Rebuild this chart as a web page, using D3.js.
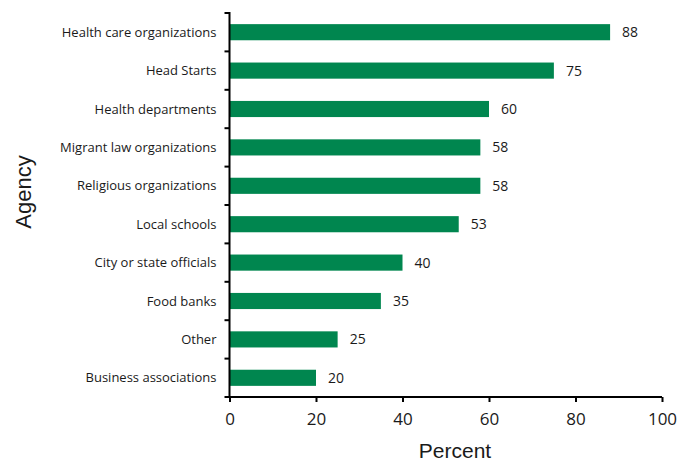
<!DOCTYPE html>
<html>
<head>
<meta charset="utf-8">
<script src="https://cdn.jsdelivr.net/npm/d3@7"></script>
<style>
  body { margin: 0; background: #fff; }
  svg { display: block; }
</style>
</head>
<body>
<svg id="chart" width="687" height="461"></svg>
<script>
// Agencies and the share (percent) reporting each
const agencies = [
  "Health care organizations",
  "Head Starts",
  "Health departments",
  "Migrant law organizations",
  "Religious organizations",
  "Local schools",
  "City or state officials",
  "Food banks",
  "Other",
  "Business associations"
];
const percents = [88, 75, 60, 58, 58, 53, 40, 35, 25, 20];
const xTicks = [0, 20, 40, 60, 80, 100];

const svg = d3.select("#chart");
const plotLeft = 229.5, plotRight = 662, plotTop = 13, plotBottom = 397;
const green = "#00864f";
const labelFont = "'Open Sans', sans-serif";
const titleFont = "'Liberation Sans', Arial, sans-serif";
const ink = "#1a1a1a";

const x = d3.scaleLinear().domain([0, 100]).range([plotLeft, plotRight]);
const y = d3.scaleBand().domain(agencies).range([plotTop, plotBottom]).paddingInner(0.58).paddingOuter(0.29);
const yBand = d3.scaleBand().domain(agencies).range([plotTop, plotBottom]);

const rows = agencies.map((a, i) => ({ agency: a, value: percents[i] }));

// Bars
svg.append("g").selectAll("rect").data(rows).join("rect")
  .attr("x", x(0))
  .attr("y", d => y(d.agency))
  .attr("width", d => x(d.value) - x(0))
  .attr("height", y.bandwidth())
  .attr("fill", green);

// Value labels
svg.append("g").selectAll("text").data(rows).join("text")
  .attr("x", d => x(d.value) + 12)
  .attr("y", d => y(d.agency) + y.bandwidth() / 2)
  .attr("dy", "0.36em")
  .attr("font-family", labelFont)
  .attr("font-size", 14)
  .attr("fill", ink)
  .text(d => d.value);

// Category labels
svg.append("g").selectAll("text").data(rows).join("text")
  .attr("x", plotLeft - 13)
  .attr("y", d => y(d.agency) + y.bandwidth() / 2)
  .attr("dy", "0.36em")
  .attr("text-anchor", "end")
  .attr("font-family", labelFont)
  .attr("font-size", 13)
  .attr("fill", ink)
  .text(d => d.agency);

// Y axis: line with ticks at band boundaries
const yTickPos = agencies.map(a => yBand(a));
const yAxis = svg.append("g").attr("stroke", "#000").attr("stroke-width", 2);
yAxis.append("line").attr("x1", plotLeft).attr("x2", plotLeft).attr("y1", plotTop - 1).attr("y2", plotBottom);
yAxis.selectAll("line.tick").data(yTickPos).join("line").attr("class", "tick")
  .attr("x1", plotLeft - 5).attr("x2", plotLeft).attr("y1", d => d).attr("y2", d => d);

// X axis
const xAxis = svg.append("g").attr("transform", `translate(0,${plotBottom})`)
  .call(d3.axisBottom(x).tickValues(xTicks).tickSize(5).tickPadding(11).tickSizeOuter(0));
xAxis.select(".domain").attr("stroke", "#000").attr("stroke-width", 2).attr("d", `M${plotLeft - 5},0H${plotRight}`);
xAxis.selectAll(".tick line").attr("stroke", "#000").attr("stroke-width", 2);
xAxis.selectAll(".tick text")
  .attr("font-family", labelFont)
  .attr("font-size", 17)
  .attr("fill", ink);

// Axis titles
svg.append("text")
  .attr("x", 455)
  .attr("y", 458)
  .attr("text-anchor", "middle")
  .attr("font-family", titleFont)
  .attr("font-size", 21)
  .attr("fill", ink)
  .text("Percent");

svg.append("text")
  .attr("transform", `translate(31,192) rotate(-90)`)
  .attr("text-anchor", "middle")
  .attr("font-family", titleFont)
  .attr("font-size", 22)
  .attr("fill", ink)
  .text("Agency");
</script>
</body>
</html>
